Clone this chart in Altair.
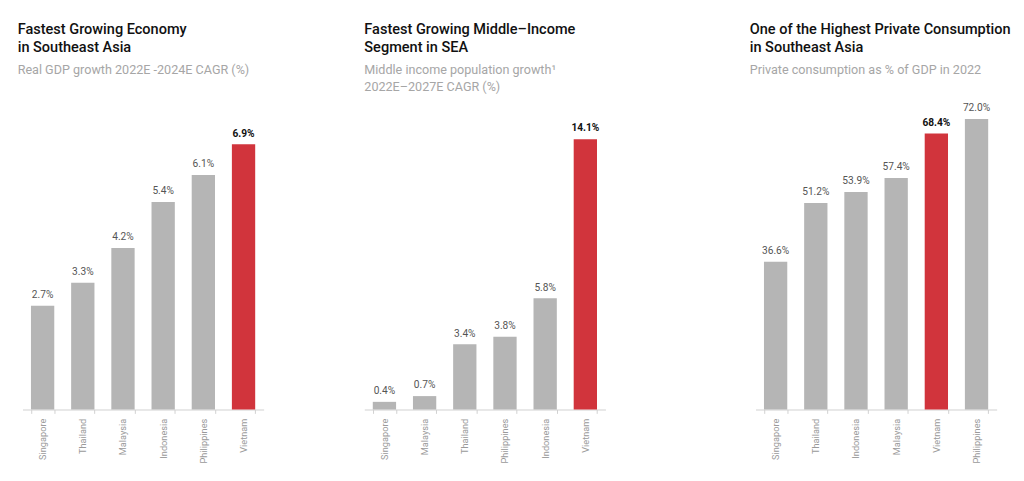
import pandas as pd
import altair as alt

# --- Données des trois panneaux ---
gdp_countries = ["Singapore", "Thailand", "Malaysia", "Indonesia", "Philippines", "Vietnam"]
gdp_values = [2.7, 3.3, 4.2, 5.4, 6.1, 6.9]

mid_countries = ["Singapore", "Malaysia", "Thailand", "Philippines", "Indonesia", "Vietnam"]
mid_values = [0.4, 0.7, 3.4, 3.8, 5.8, 14.1]

cons_countries = ["Singapore", "Thailand", "Indonesia", "Malaysia", "Vietnam", "Philippines"]
cons_values = [36.6, 51.2, 53.9, 57.4, 68.4, 72.0]

highlight = "Vietnam"

GRAY = "#b5b5b5"
RED = "#d1343c"
FONT = "Roboto"


def panel(countries, values, title, subtitle, ymax, dx, offset):
    df = pd.DataFrame({"country": countries, "value": values})
    df["label"] = [f"{v:.1f}%" for v in values]

    base = alt.Chart(df).encode(
        x=alt.X(
            "country:N",
            sort=countries,
            title=None,
            scale=alt.Scale(paddingInner=0.42, paddingOuter=0.21),
            axis=alt.Axis(
                labelAngle=270,
                labelColor="#9a9a9a",
                labelFontSize=9.5,
                labelFont=FONT,
                labelPadding=5,
                domainColor="#cfcfcf",
                tickColor="#cfcfcf",
                tickSize=4,
                tickBand="extent",
            ),
        ),
        y=alt.Y("value:Q", scale=alt.Scale(domain=[0, ymax]), axis=None),
    )

    bars = base.mark_bar().encode(
        color=alt.condition(alt.datum.country == highlight, alt.value(RED), alt.value(GRAY))
    )
    labels = base.mark_text(dy=-8, baseline="alphabetic", fontSize=10.5, font=FONT, color="#555555").encode(
        text="label:N"
    ).transform_filter(alt.datum.country != highlight)
    labels_hi = base.mark_text(
        dy=-8, baseline="alphabetic", fontSize=10.5, font=FONT, fontWeight="bold", color="#111111"
    ).encode(text="label:N").transform_filter(alt.datum.country == highlight)

    return (bars + labels + labels_hi).properties(
        width=249,
        height=316,
        title=alt.TitleParams(
            text=title,
            subtitle=subtitle,
            anchor="start",
            frame="group",
            dx=dx,
            offset=offset,
            font=FONT,
            fontSize=15,
            fontWeight=500,
            color="#111111",
            lineHeight=19,
            subtitleFont=FONT,
            subtitleFontSize=13,
            subtitleColor="#a6a6a6",
            subtitleLineHeight=18,
            subtitlePadding=9,
        ),
    )


def spacer(w):
    return alt.Chart(pd.DataFrame({"a": [0]})).mark_point(opacity=0).encode(
        x=alt.value(0), y=alt.value(0)
    ).properties(width=w, height=316)


p1 = panel(gdp_countries, gdp_values,
           ["Fastest Growing Economy", "in Southeast Asia"],
           "Real GDP growth 2022E -2024E CAGR (%)", 7.96, -5, 28)
p2 = panel(mid_countries, mid_values,
           ["Fastest Growing Middle–Income", "Segment in SEA"],
           ["Middle income population growth¹", "2022E–2027E CAGR (%)"], 15.96, 0, 10)
p3 = panel(cons_countries, cons_values,
           ["One of the Highest Private Consumption", "in Southeast Asia"],
           "Private consumption as % of GDP in 2022", 75.84, -6, 28)

chart = (
    alt.hconcat(p1, spacer(104), p2, spacer(155), p3, spacing=0, bounds="flush")
    .properties(padding={"left": 10, "top": 7, "right": 5, "bottom": 5})
    .configure_view(stroke=None)
)

chart.save("out.html", embed_options={"renderer": "svg", "actions": False})
